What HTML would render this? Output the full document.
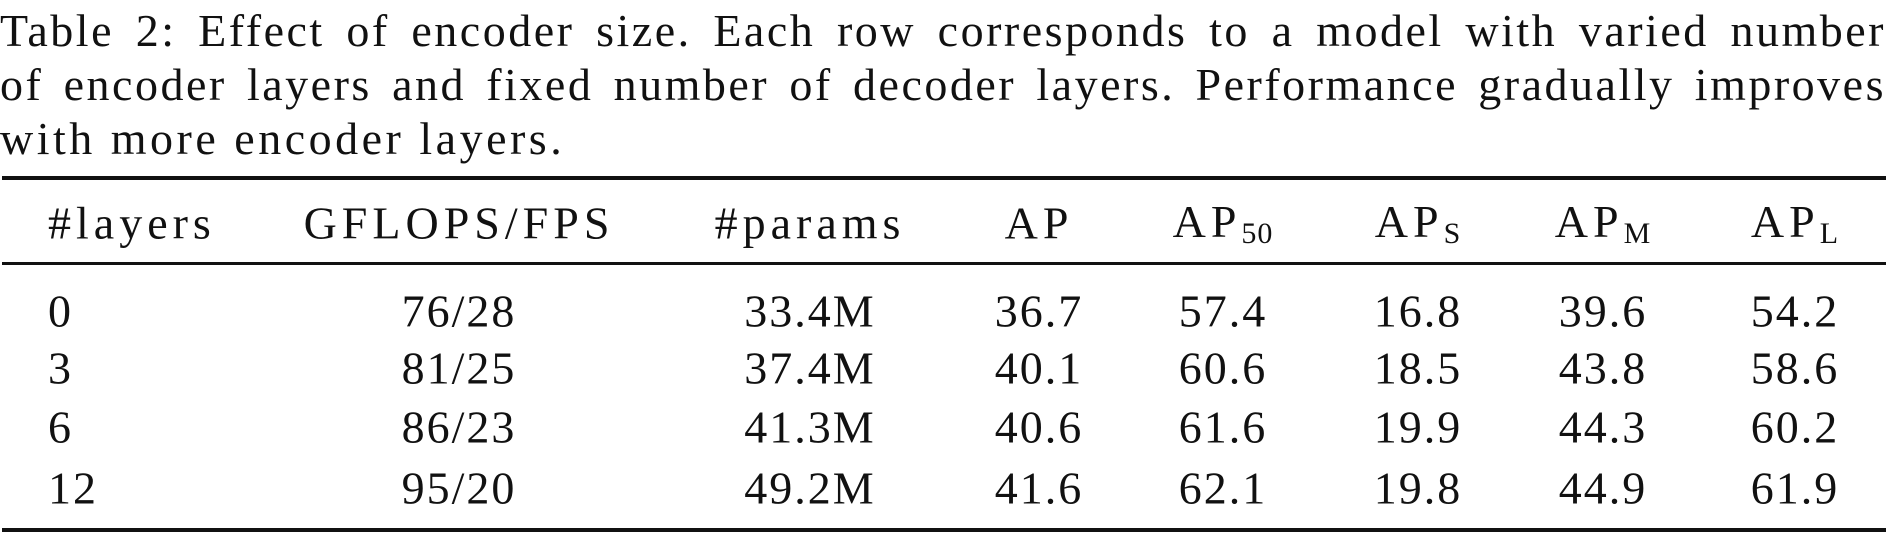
<!DOCTYPE html>
<html><head><meta charset="utf-8"><style>
body{margin:0;width:1889px;height:537px;background:#fff;overflow:hidden;font-family:"Liberation Serif",serif;color:#111;position:relative}
.cap{position:absolute;left:0;width:1886px;font-size:46px;line-height:54px;white-space:nowrap;letter-spacing:2.5px}
.j{text-align:justify;text-align-last:justify}
.rule{position:absolute;left:2px;width:1884px;background:#111}
.c{position:absolute;font-size:46px;transform:translate(-50%,-50%);white-space:nowrap;letter-spacing:2px}
.l{position:absolute;font-size:46px;transform:translateY(-50%);letter-spacing:2px}
.h{letter-spacing:5px}
sub{font-size:30px;vertical-align:-6px;letter-spacing:1px}
</style></head><body>
<div class="cap j" style="top:4px">Table 2: Effect of encoder size. Each row corresponds to a model with varied number</div>
<div class="cap j" style="top:58px">of encoder layers and fixed number of decoder layers. Performance gradually improves</div>
<div class="cap" style="top:112px;letter-spacing:3.5px">with more encoder layers.</div>
<div class="rule" style="top:176px;height:4px"></div>
<div class="rule" style="top:262px;height:3px"></div>
<div class="rule" style="top:528px;height:4px"></div>
<div id="t"></div>
<script>
const headers=['#layers','GFLOPS/FPS','#params','AP','AP<sub>50</sub>','AP<sub>S</sub>','AP<sub>M</sub>','AP<sub>L</sub>'];
const rows=[
['0','76/28','33.4M','36.7','57.4','16.8','39.6','54.2'],
['3','81/25','37.4M','40.1','60.6','18.5','43.8','58.6'],
['6','86/23','41.3M','40.6','61.6','19.9','44.3','60.2'],
['12','95/20','49.2M','41.6','62.1','19.8','44.9','61.9']];
const xs=[48,459,810,1039,1223,1418,1603,1795];
const ys=[223,311,368,427,488];
const t=document.getElementById('t');
function cell(html,i,y,name,hdr){
 const d=document.createElement('div');
 d.className=(i===0?'l':'c')+(hdr?' h':'');
 d.style.left=xs[i]+'px';d.style.top=y+'px';
 d.innerHTML=html;
 
 
 t.appendChild(d);
}
headers.forEach((h,i)=>cell(h,i,ys[0],'header-cell',true));
rows.forEach((r,ri)=>r.forEach((v,i)=>cell(v,i,ys[ri+1],'table-cell',false)));
</script>
</body></html>
